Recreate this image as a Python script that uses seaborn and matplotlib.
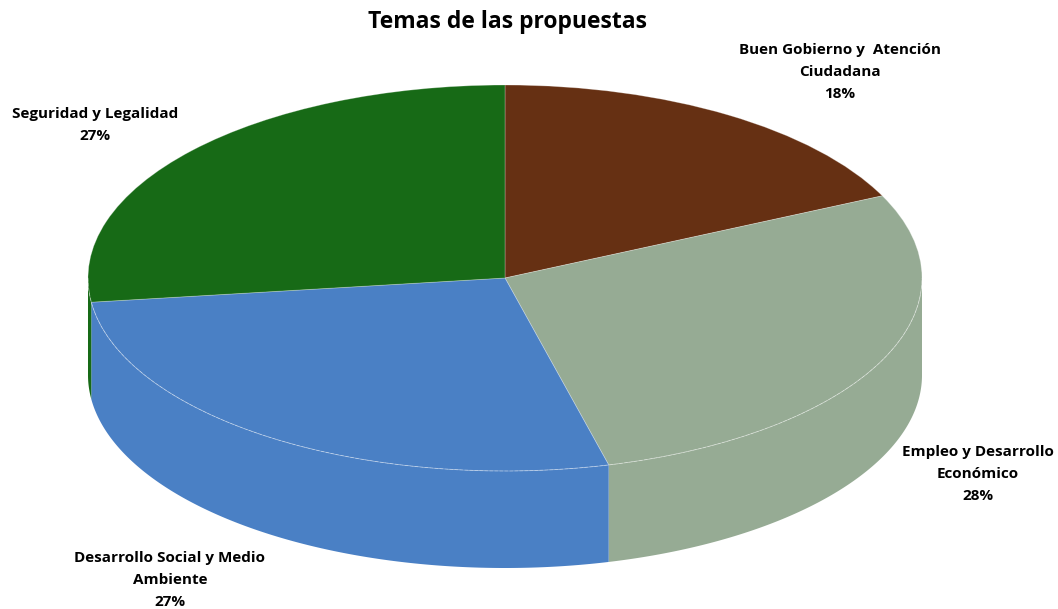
import numpy as np
import matplotlib
matplotlib.use('Agg')
import matplotlib.pyplot as plt
import seaborn as sns

# Data
temas = ["Buen Gobierno y  Atención\nCiudadana", "Empleo y Desarrollo\nEconómico",
         "Desarrollo Social y Medio\nAmbiente", "Seguridad y Legalidad"]
porcentajes = [18, 28, 27, 27]
colores = ["#663013", "#96AB94", "#4A80C5", "#176A16"]

sns.set_theme(style="white")
plt.rcParams['font.family'] = ['Open Sans', 'DejaVu Sans']

W, H = 1058, 609
fig = plt.figure(figsize=(W / 100, H / 100), dpi=100)
ax = fig.add_axes([0, 0, 1, 1])

# ellipse geometry (pixels): top face squashed in y
rx, ry = 417, 193
s = ry / rx
cx, cy = 505, (H - 278) / s
depth = 97 / s

wedges, _ = ax.pie(porcentajes, colors=colores, startangle=90, counterclock=False,
                   center=(cx, cy), radius=rx,
                   wedgeprops=dict(linewidth=0.6, edgecolor=(1, 1, 1, 0.3)))
for w in wedges:
    w.set_zorder(2)

# side walls of the front half
for w, c in zip(wedges, colores):
    t1, t2 = w.theta1, w.theta2
    for k in (-1, 0, 1):
        lo = max(t1, 180 + 360 * k)
        hi = min(t2, 360 + 360 * k)
        if lo < hi:
            th = np.radians(np.linspace(lo, hi, 200))
            x = cx + rx * np.cos(th)
            yt = cy + rx * np.sin(th)
            yb = yt - depth
            ax.fill(np.concatenate([x, x[::-1]]), np.concatenate([yt, yb[::-1]]),
                    color=c, lw=0, zorder=1)

# faint rim line between top face and side
th = np.radians(np.linspace(180, 360, 300))
ax.plot(cx + rx * np.cos(th), cy + rx * np.sin(th), color="white", alpha=0.3,
        lw=0.6, ls=(0, (4, 2)), zorder=3)

ax.set_xlim(0, W)
ax.set_ylim(0, H / s)
ax.set_aspect('auto')
ax.axis('off')

fig.text(507 / W, 1 - 22 / H, "Temas de las propuestas", ha="center", va="center",
         fontsize=16.5, fontweight="bold", color="black")

pos = [(840, 72), (978, 474), (170, 580), (95, 125)]
for t, p, (px, py) in zip(temas, porcentajes, pos):
    fig.text(px / W, 1 - py / H, f"{t}\n{p}%", ha="center", va="center",
             fontsize=11, fontweight="bold", color="black", linespacing=1.75)

fig.savefig("out.png", dpi=100)
